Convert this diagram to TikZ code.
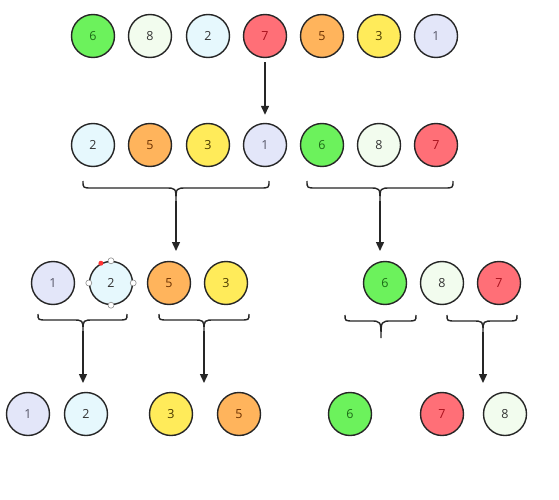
\documentclass[tikz,border=0pt]{standalone}
\usepackage{fontspec}
\setmainfont{Open Sans}
\usetikzlibrary{arrows.meta}
\definecolor{f6}{HTML}{6CF25C}\definecolor{t6}{HTML}{1D6B17}
\definecolor{f8}{HTML}{F2FCEE}\definecolor{t8}{HTML}{333333}
\definecolor{f2}{HTML}{E6F8FD}\definecolor{t2}{HTML}{333333}
\definecolor{f7}{HTML}{FF6F77}\definecolor{t7}{HTML}{A8101C}
\definecolor{f5}{HTML}{FFB45C}\definecolor{t5}{HTML}{6B3000}
\definecolor{f3}{HTML}{FFEB5A}\definecolor{t3}{HTML}{4A3A00}
\definecolor{f1}{HTML}{E3E6F9}\definecolor{t1}{HTML}{555566}
\tikzset{
  ball/.style={circle, draw=black!85, line width=1.4pt, minimum size=43pt, inner sep=0pt,
    font=\fontsize{12.5}{14}\selectfont},
  b1/.style={ball, fill=f1, text=t1},
  b2/.style={ball, fill=f2, text=t2},
  b3/.style={ball, fill=f3, text=t3},
  b5/.style={ball, fill=f5, text=t5},
  b6/.style={ball, fill=f6, text=t6},
  b7/.style={ball, fill=f7, text=t7},
  b8/.style={ball, fill=f8, text=t8},
  brace/.style={draw=black!85, line width=1.4pt},
  arr/.style={draw=black!85, line width=1.4pt, -{Triangle[length=9pt,width=8pt]}},
  handle/.style={circle, draw=black!45, fill=white, line width=0.6pt, minimum size=6pt, inner sep=0pt},
  reddot/.style={circle, fill=red!80, minimum size=5pt, inner sep=0pt}
}
% brace: #1 x left, #2 x mid, #3 x right, #4 y top, #5 y flat, #6 y cusp
\newcommand{\mybrace}[6]{%
  \draw[brace] (#1,#4) .. controls (#1,#5) .. (#1+9,#5) -- (#2-11,#5)
    .. controls (#2,#5) .. (#2,#6)
    .. controls (#2,#5) .. (#2+11,#5) -- (#3-9,#5) .. controls (#3,#5) .. (#3,#4);}
\begin{document}
\begin{tikzpicture}[x=1pt,y=-1pt]
\useasboundingbox[fill=white] (0,0) rectangle (559,500);
% row 1
\node[b6] (a6) at (93,36) {6};
\node[b8] (a8) at (150,36) {8};
\node[b2] (a2) at (208,36) {2};
\node[b7] (a7) at (265,36) {7};
\node[b5] (a5) at (322,36) {5};
\node[b3] (a3) at (379,36) {3};
\node[b1] (a1) at (436,36) {1};
% row 2
\node[b2] (b2) at (93,145) {2};
\node[b5] (b5) at (150,145) {5};
\node[b3] (b3) at (208,145) {3};
\node[b1] (b1) at (265,145) {1};
\node[b6] (b6) at (322,145) {6};
\node[b8] (b8) at (379,145) {8};
\node[b7] (b7) at (436,145) {7};
\draw[arr, shorten <=4pt, shorten >=8pt] (a7) -- (b1);
% braces row 2
\mybrace{83}{176}{269}{181}{188}{201}
\mybrace{307}{380}{453}{181}{188}{201}
\coordinate (bl) at (176,201);
\coordinate (blt) at (176,251);
\coordinate (br) at (380,201);
\coordinate (brt) at (380,251);
\draw[arr] (bl) -- (blt);
\draw[arr] (br) -- (brt);
% row 3
\node[b1] (c1) at (53,283) {1};
\node[b2] (c2) at (111,283) {2};
\node[b5] (c5) at (169,283) {5};
\node[b3] (c3) at (226,283) {3};
\node[b6] (c6) at (385,283) {6};
\node[b8] (c8) at (442,283) {8};
\node[b7] (c7) at (499,283) {7};
% selection handles
\node[handle] (h1) at (c2.north) {};
\node[handle] (h2) at (c2.south) {};
\node[handle] (h3) at (c2.west) {};
\node[handle] (h4) at (c2.east) {};
\node[reddot] (h5) at (c2.117) {};
% braces row 3
\mybrace{38}{83}{127}{314}{320}{331}
\mybrace{159}{204}{249}{314}{320}{331}
\mybrace{345}{381}{416}{315}{321}{338}
\mybrace{447}{483}{517}{315}{321}{332}
\coordinate (dl) at (83,331);
\coordinate (dlt) at (83,383);
\coordinate (dm) at (204,331);
\coordinate (dmt) at (204,383);
\coordinate (dr) at (483,332);
\coordinate (drt) at (483,383);
\draw[arr] (dl) -- (dlt);
\draw[arr] (dm) -- (dmt);
\draw[arr] (dr) -- (drt);
% row 4
\node[b1] (e1) at (28,414) {1};
\node[b2] (e2) at (86,414) {2};
\node[b3] (e3) at (171,414) {3};
\node[b5] (e5) at (239,414) {5};
\node[b6] (e6) at (350,414) {6};
\node[b7] (e7) at (442,414) {7};
\node[b8] (e8) at (505,414) {8};
\end{tikzpicture}
\end{document}
